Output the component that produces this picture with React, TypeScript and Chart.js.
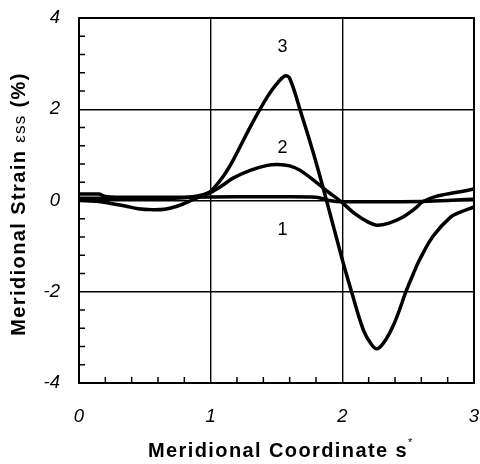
import React, { useEffect, useRef } from "react";
import { Chart, registerables } from "chart.js";
Chart.register(...registerables);

// Curve 1
const s1 = [0, 0.15, 0.2, 0.4, 0.8, 1.2, 1.6, 1.8, 1.9, 2.0, 2.3, 2.6, 2.8, 3.0];
const v1 = [0.14, 0.14, 0.09, 0.07, 0.07, 0.08, 0.08, 0.07, 0.0, -0.03, -0.03, -0.02, 0.0, 0.03];
// Curve 2
const s2 = [0, 0.2, 0.4, 0.6, 0.8, 0.9, 1.0, 1.1, 1.17, 1.3, 1.43, 1.51, 1.6, 1.68, 1.81, 1.9, 1.98, 2.1, 2.2, 2.26, 2.35, 2.45, 2.55, 2.61, 2.7, 2.87, 3.0];
const v2 = [0.05, 0.05, 0.04, 0.04, 0.06, 0.1, 0.18, 0.35, 0.49, 0.66, 0.77, 0.79, 0.76, 0.66, 0.38, 0.17, 0.0, -0.3, -0.48, -0.54, -0.5, -0.38, -0.18, -0.03, 0.08, 0.18, 0.25];
// Curve 3
const s3 = [0, 0.15, 0.25, 0.35, 0.45, 0.55, 0.65, 0.75, 0.85, 0.95, 1.0, 1.1, 1.17, 1.3, 1.43, 1.5, 1.565, 1.6, 1.68, 1.78, 1.88, 2.0, 2.07, 2.16, 2.22, 2.266, 2.33, 2.39, 2.44, 2.48, 2.54, 2.59, 2.69, 2.82, 2.9, 3.0];
const v3 = [0.0, -0.02, -0.07, -0.12, -0.18, -0.2, -0.19, -0.12, 0.0, 0.13, 0.2, 0.55, 0.88, 1.61, 2.27, 2.55, 2.73, 2.68, 1.98, 1.04, 0.0, -1.3, -2.0, -2.84, -3.15, -3.25, -3.05, -2.72, -2.35, -2.02, -1.6, -1.28, -0.78, -0.37, -0.25, -0.14];

// Curve labels
const curveNames = ["1", "2", "3"];
const curveLabelS = [1.545, 1.545, 1.545];
const curveLabelV = [-0.65, 1.16, 3.37];

// Axes
const xMin = 0, xMax = 3, xStep = 1, xMinorStep = 0.2;
const yMin = -4, yMax = 4, yStep = 2, yMinorStep = 0.4;

const xTitle = "Meridional Coordinate s";
const xTitleSup = "*";
const yTitleA = "Meridional Strain ";
const yTitleSym = "\u03b5ss";
const yTitleB = " (%)";

const FONT = '"Liberation Sans", Arial, sans-serif';

type Part = { text: string; font: string; ls: number; dy?: number };

function drawParts(ctx: CanvasRenderingContext2D, parts: Part[], startX: number, baseline: number) {
  let cx = startX;
  for (const p of parts) {
    ctx.font = p.font;
    (ctx as any).letterSpacing = p.ls + "px";
    ctx.fillText(p.text, cx, baseline + (p.dy || 0));
    cx += ctx.measureText(p.text).width;
  }
}
function partsWidth(ctx: CanvasRenderingContext2D, parts: Part[]) {
  let w = 0;
  for (const p of parts) {
    ctx.font = p.font;
    (ctx as any).letterSpacing = p.ls + "px";
    w += ctx.measureText(p.text).width;
  }
  return w;
}

export default function App() {
  const ref = useRef<HTMLCanvasElement>(null);
  useEffect(() => {
    document.body.style.margin = "0";
    const toPts = (s: number[], v: number[]) => s.map((x, i) => ({ x, y: v[i] }));
    const ds = (s: number[], v: number[], mono: boolean) => ({
      data: toPts(s, v),
      borderColor: "#000",
      borderWidth: 3.5,
      pointRadius: 0,
      fill: false,
      tension: mono ? 0 : 0.35,
      cubicInterpolationMode: mono ? ("monotone" as const) : ("default" as const),
    });

    const deco = {
      id: "deco",
      afterDatasetsDraw(chart: any) {
        const ctx: CanvasRenderingContext2D = chart.ctx;
        const { left, right, top, bottom } = chart.chartArea;
        const x = chart.scales.x;
        const y = chart.scales.y;
        ctx.save();
        ctx.strokeStyle = "#000";
        ctx.lineWidth = 1.5;
        const nx = Math.round((xMax - xMin) / xMinorStep);
        for (let i = 1; i < nx; i++) {
          const v = xMin + i * xMinorStep;
          if (Math.abs(v / xStep - Math.round(v / xStep)) < 1e-6) continue;
          const px = x.getPixelForValue(v);
          ctx.beginPath();
          ctx.moveTo(px, bottom);
          ctx.lineTo(px, bottom - 6);
          ctx.stroke();
        }
        const ny = Math.round((yMax - yMin) / yMinorStep);
        for (let i = 1; i < ny; i++) {
          const v = yMin + i * yMinorStep;
          if (Math.abs(v / yStep - Math.round(v / yStep)) < 1e-6) continue;
          const py = y.getPixelForValue(v);
          ctx.beginPath();
          ctx.moveTo(left, py);
          ctx.lineTo(left + 6, py);
          ctx.stroke();
        }
        ctx.lineWidth = 2;
        ctx.strokeRect(left, top, right - left, bottom - top);
        ctx.fillStyle = "#000";
        ctx.font = `18px ${FONT}`;
        ctx.textAlign = "center";
        ctx.textBaseline = "middle";
        for (let i = 0; i < curveNames.length; i++) {
          ctx.fillText(curveNames[i], x.getPixelForValue(curveLabelS[i]), y.getPixelForValue(curveLabelV[i]));
        }
        ctx.textAlign = "left";
        ctx.textBaseline = "alphabetic";
        const bold = `bold 20px ${FONT}`;
        drawParts(ctx, [
          { text: xTitle, font: bold, ls: 1.4 },
          { text: xTitleSup, font: `11px ${FONT}`, ls: 0, dy: -11 },
        ], 148, 457);
        const yParts: Part[] = [
          { text: yTitleA, font: bold, ls: 1.4 },
          { text: yTitleSym, font: `17px ${FONT}`, ls: 1.2 },
          { text: yTitleB, font: bold, ls: 1.4 },
        ];
        const w = partsWidth(ctx, yParts);
        ctx.translate(25, 204);
        ctx.rotate(-Math.PI / 2);
        drawParts(ctx, yParts, -w / 2, 0);
        ctx.restore();
      },
    };

    const tickFont = { family: FONT, size: 18.5, style: "italic" as const };
    const chart = new Chart(ref.current!, {
      type: "line",
      data: { datasets: [ds(s1, v1, true), ds(s2, v2, false), ds(s3, v3, false)] },
      options: {
        animation: false,
        responsive: false,
        devicePixelRatio: 1,
        layout: { padding: { top: 18, right: 6, left: 0, bottom: 0 } },
        plugins: { legend: { display: false }, tooltip: { enabled: false } },
        scales: {
          x: {
            type: "linear",
            min: xMin,
            max: xMax,
            ticks: { stepSize: xStep, font: tickFont, color: "#000", padding: 23, maxRotation: 0 },
            grid: { color: "#000", lineWidth: 1.4, drawTicks: false },
            border: { display: false },
            afterFit: (s: any) => { s.height = 81; s.paddingLeft = 0; s.paddingRight = 0; },
          },
          y: {
            type: "linear",
            min: yMin,
            max: yMax,
            ticks: { stepSize: yStep, font: tickFont, color: "#000", padding: 19 },
            grid: { color: "#000", lineWidth: 1.4, drawTicks: false },
            border: { display: false },
            afterFit: (s: any) => { s.width = 79; s.paddingTop = 0; s.paddingBottom = 0; },
          },
        },
      },
      plugins: [deco],
    } as any);
    return () => chart.destroy();
  }, []);
  return (
    <div style={{ width: 480, height: 464, background: "#fff" }}>
      <canvas ref={ref} width={480} height={464} />
    </div>
  );
}
